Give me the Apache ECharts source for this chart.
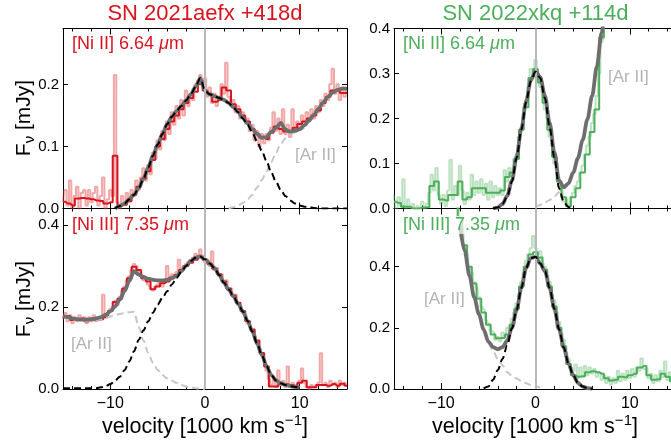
<!DOCTYPE html>
<html>
<head>
<meta charset="utf-8">
<script src="https://cdn.jsdelivr.net/npm/echarts@6/dist/echarts.min.js"></script>
<style>
html, body { margin: 0; padding: 0; background: #fff; }
#main { width: 671px; height: 443px; }
</style>
</head>
<body>
<div id="main"></div>
<script>
// velocity grids in 1000 km/s: binned spectrum (0.5) and native spectrum (0.25)
var velBin = []
for (var k = -30; k <= 30; k++) velBin.push(k / 2)
var velFine = []
for (var k = -60; k <= 60; k++) velFine.push(k / 4)

// ---- SN 2021aefx, [Ni II] 6.64 um (mJy)
var aefxNi2Raw = [
    0.01, 0.03, 0.005, 0.045, 0.0, 0.02, 0.035, 0.0,
    0.025, 0.03, 0.005, 0.03, 0.01, 0.025, 0.035, 0.005,
    0.02, 0.05, 0.0, 0.015, 0.03, 0.02, 0.215, 0.01,
    0.0, 0.02, 0.01, 0.025, 0.01, 0.03, 0.02, 0.045,
    0.03, 0.05, 0.065, 0.045, 0.07, 0.055, 0.09, 0.08,
    0.11, 0.095, 0.125, 0.11, 0.14, 0.12, 0.155, 0.135,
    0.165, 0.145, 0.175, 0.15, 0.19, 0.165, 0.185, 0.175,
    0.2, 0.205, 0.215, 0.2, 0.21, 0.18, 0.195, 0.17,
    0.185, 0.165, 0.18, 0.2, 0.185, 0.235, 0.18, 0.17,
    0.175, 0.155, 0.165, 0.145, 0.155, 0.14, 0.145, 0.125,
    0.135, 0.11, 0.125, 0.1, 0.12, 0.105, 0.12, 0.11,
    0.13, 0.155, 0.125, 0.145, 0.12, 0.16, 0.12, 0.135,
    0.115, 0.16, 0.125, 0.14, 0.13, 0.15, 0.135, 0.155,
    0.14, 0.16, 0.145, 0.165, 0.155, 0.175, 0.165, 0.185,
    0.175, 0.2, 0.225, 0.185, 0.2, 0.175, 0.195, 0.18,
    0.19
]
var aefxNi2Bin = [
    0.011, 0.008, 0.005, 0.016, 0.017, 0.016, 0.015, 0.013, 0.012, 0.008,
    0.01, 0.085, 0.005, 0.006, 0.012, 0.022, 0.035, 0.048, 0.06, 0.078,
    0.1, 0.112, 0.128, 0.14, 0.15, 0.16, 0.17, 0.178, 0.188, 0.2,
    0.19, 0.185, 0.172, 0.175, 0.195, 0.19, 0.168, 0.16, 0.15, 0.14,
    0.128, 0.12, 0.115, 0.112, 0.122, 0.132, 0.128, 0.124, 0.125, 0.13,
    0.136, 0.14, 0.145, 0.15, 0.158, 0.17, 0.18, 0.19, 0.19, 0.186,
    0.186
]
var aefxNi2Fit = [
    null, null, null, null, null, null, null, null, null, null,
    null, 0.0, 0.004, 0.008, 0.015, 0.022, 0.033, 0.048, 0.066, 0.085,
    0.103, 0.12, 0.136, 0.148, 0.157, 0.165, 0.174, 0.184, 0.196, 0.21,
    0.19, 0.184, 0.181, 0.178, 0.175, 0.17, 0.163, 0.155, 0.146, 0.137,
    0.128, 0.12, 0.114, 0.115, 0.124, 0.13, 0.138, 0.127, 0.124, 0.125,
    0.128, 0.134, 0.142, 0.151, 0.161, 0.171, 0.18, 0.187, 0.191, 0.193,
    0.193
]
var aefxNi2Comp = [
    null, null, null, null, null, null, null, null, null, null,
    null, 0.0, 0.004, 0.008, 0.015, 0.022, 0.033, 0.048, 0.066, 0.085,
    0.103, 0.12, 0.136, 0.148, 0.157, 0.165, 0.174, 0.184, 0.196, 0.21,
    0.19, 0.184, 0.181, 0.178, 0.175, 0.17, 0.163, 0.155, 0.145, 0.135,
    0.122, 0.108, 0.093, 0.076, 0.058, 0.043, 0.03, 0.02, 0.013, 0.008,
    0.005, 0.003, 0.002, 0.001, 0, 0, 0, 0, 0, 0,
    0
]
var aefxNi2Ar = [
    null, null, null, null, null, null, null, null, null, null,
    null, null, null, null, null, null, null, null, null, null,
    null, null, null, null, null, null, null, null, null, null,
    null, null, null, null, null, 0.0, 0.002, 0.005, 0.009, 0.015,
    0.022, 0.034, 0.046, 0.06, 0.075, 0.09, 0.104, 0.113, 0.119, 0.123,
    0.126, 0.13, null, null, null, null, null, null, null, null,
    null
]

// ---- SN 2021aefx, [Ni III] 7.35 um
var aefxNi3Raw = [
    0.17, 0.185, 0.165, 0.18, 0.16, 0.175, 0.165, 0.18,
    0.17, 0.175, 0.16, 0.175, 0.165, 0.18, 0.165, 0.175,
    0.17, 0.23, 0.175, 0.185, 0.195, 0.2, 0.215, 0.205,
    0.225, 0.24, 0.25, 0.265, 0.275, 0.29, 0.305, 0.3,
    0.285, 0.28, 0.265, 0.27, 0.255, 0.245, 0.24, 0.25,
    0.255, 0.26, 0.25, 0.265, 0.3, 0.265, 0.28, 0.275,
    0.285, 0.315, 0.29, 0.3, 0.305, 0.31, 0.315, 0.32,
    0.33, 0.325, 0.34, 0.325, 0.31, 0.315, 0.3, 0.335,
    0.29, 0.295, 0.275, 0.28, 0.26, 0.265, 0.24, 0.245,
    0.225, 0.23, 0.205, 0.2, 0.185, 0.18, 0.16, 0.155,
    0.14, 0.13, 0.115, 0.1, 0.085, 0.07, 0.045, 0.025,
    0.01, 0.02, 0.005, 0.045, 0.01, 0.02, 0.005, 0.055,
    0.01, 0.015, 0.005, 0.01, 0.02, 0.05, 0.015, 0.005,
    0.0, 0.01, 0.005, 0.01, 0.015, 0.087, 0.01, 0.015,
    0.005, 0.02, 0.01, 0.015, 0.005, 0.02, 0.01, 0.015,
    0.01
]
var aefxNi3Bin = [
    0.175, 0.178, 0.168, 0.17, 0.172, 0.165, 0.17, 0.168, 0.17, 0.175,
    0.19, 0.212, 0.22, 0.245, 0.27, 0.298, 0.29, 0.27, 0.262, 0.243,
    0.25, 0.258, 0.262, 0.272, 0.278, 0.29, 0.3, 0.308, 0.315, 0.322,
    0.315, 0.305, 0.293, 0.28, 0.262, 0.245, 0.228, 0.21, 0.19, 0.166,
    0.145, 0.118, 0.088, 0.055, 0.006, 0.006, 0.012, 0.012, 0.01, 0.008,
    0.015, 0.02, 0.004, 0.004, 0.01, 0.01, 0.008, 0.012, 0.008, 0.013,
    0.008
]
var aefxNi3Fit = [
    0.178, 0.175, 0.172, 0.17, 0.169, 0.169, 0.17, 0.172, 0.175, 0.181,
    0.189, 0.201, 0.218, 0.239, 0.263, 0.287, 0.279, 0.273, 0.269, 0.266,
    0.265, 0.265, 0.266, 0.27, 0.276, 0.287, 0.3, 0.312, 0.32, 0.323,
    0.316, 0.306, 0.295, 0.278, 0.259, 0.243, 0.226, 0.208, 0.189, 0.166,
    0.14, 0.111, 0.083, 0.056, 0.034, 0.021, 0.014, 0.01, 0.007, 0.005,
    0.003, null, null, null, null, null, null, null, null, null,
    null
]
var aefxNi3Comp = [
    0.002, 0.002, 0.002, 0.002, 0.002, 0.002, 0.002, 0.002, 0.004, 0.007,
    0.012, 0.02, 0.03, 0.046, 0.067, 0.092, 0.12, 0.143, 0.165, 0.186,
    0.206, 0.222, 0.238, 0.255, 0.271, 0.286, 0.3, 0.312, 0.32, 0.323,
    0.316, 0.306, 0.295, 0.278, 0.259, 0.243, 0.226, 0.208, 0.189, 0.166,
    0.14, 0.111, 0.083, 0.056, 0.034, 0.021, 0.014, 0.01, 0.007, 0.005,
    0.003, null, null, null, null, null, null, null, null, null,
    null
]
var aefxNi3Ar = [
    0.176, 0.172, 0.169, 0.167, 0.166, 0.166, 0.167, 0.168, 0.17, 0.173,
    0.177, 0.18, 0.183, 0.185, 0.187, 0.188, 0.152, 0.118, 0.088, 0.064,
    0.047, 0.034, 0.026, 0.02, 0.015, 0.01, 0.006, 0.004, 0.002, 0.001,
    0.0, null, null, null, null, null, null, null, null, null,
    null, null, null, null, null, null, null, null, null, null,
    null, null, null, null, null, null, null, null, null, null,
    null
]

// ---- SN 2022xkq, [Ni II] 6.64 um
var xkqNi2Raw = [
    0.03, 0.0, 0.025, 0.005, 0.065, 0.0, 0.02, 0.0,
    0.01, 0.0, 0.005, 0.0, 0.015, 0.0, 0.01, 0.035,
    0.075, 0.04, 0.09, 0.03, 0.01, 0.03, 0.005, 0.04,
    0.108, 0.02, 0.05, 0.03, 0.095, 0.04, 0.01, 0.035,
    0.02, 0.075, 0.03, 0.06, 0.035, 0.065, 0.03, 0.055,
    0.02, 0.06, 0.025, 0.05, 0.03, 0.045, 0.03, 0.085,
    0.06, 0.09, 0.07, 0.11, 0.12, 0.16, 0.18, 0.21,
    0.24, 0.27, 0.31, 0.3, 0.33, 0.3, 0.27, 0.26,
    0.22, 0.2, 0.16, 0.14, 0.1, 0.085, 0.05, 0.04,
    0.015, 0.02, 0.01, 0.025, 0.035, 0.05, 0.06, 0.08,
    0.095, 0.12, 0.14, 0.16, 0.19, 0.21, 0.25, 0.3,
    0.37, 0.43, 0.5, 0.58, null, null, null, null,
    null, null, null, null, null, null, null, null,
    null, null, null, null, null, null, null, null,
    null, null, null, null, null, null, null, null,
    null
]
var xkqNi2Bin = [
    0.015, 0.012, 0.004, 0.004, 0.0, 0.0, 0.002, 0.003, 0.05, 0.06,
    0.02, 0.018, 0.03, 0.03, 0.06, 0.02, 0.025, 0.045, 0.045, 0.045,
    0.035, 0.035, 0.035, 0.04, 0.07, 0.08, 0.11, 0.175, 0.225, 0.29,
    0.31, 0.28, 0.235, 0.175, 0.115, 0.06, 0.025, 0.005, 0.025, 0.045,
    0.08, 0.12, 0.17, 0.22, 0.38, 0.5, 0.6, null, null, null,
    null, null, null, null, null, null, null, null, null, null,
    null
]
var xkqNi2Fit = [
    null, null, null, null, null, null, null, null, null, null,
    null, null, null, null, null, null, null, null, null, null,
    null, 0.0, 0.002, 0.01, 0.028, 0.062, 0.115, 0.177, 0.238, 0.285,
    0.305, 0.292, 0.25, 0.19, 0.125, 0.062, 0.047, 0.056, 0.08, 0.112,
    0.152, 0.198, 0.25, 0.315, 0.39, 0.47, 0.56, null, null, null,
    null, null, null, null, null, null, null, null, null, null,
    null
]
var xkqNi2Comp = [
    null, null, null, null, null, null, null, null, null, null,
    null, null, null, null, null, null, null, null, null, null,
    null, 0.0, 0.002, 0.01, 0.027, 0.06, 0.113, 0.175, 0.236, 0.283,
    0.304, 0.29, 0.245, 0.18, 0.113, 0.045, 0.014, 0.003, 0.0, null,
    null, null, null, null, null, null, null, null, null, null,
    null, null, null, null, null, null, null, null, null, null,
    null
]
var xkqNi2Ar = [
    null, null, null, null, null, null, null, null, null, null,
    null, null, null, null, null, null, null, null, null, null,
    null, null, null, null, null, null, null, null, null, null,
    0.004, 0.008, 0.013, 0.019, 0.027, 0.036, 0.046, 0.055, null, null,
    null, null, null, null, null, null, null, null, null, null,
    null, null, null, null, null, null, null, null, null, null,
    null
]

// ---- SN 2022xkq, [Ni III] 7.35 um
var xkqNi3Raw = [
    null, null, null, null, null, null, null, null,
    null, null, null, null, null, null, null, null,
    null, null, null, null, null, null, null, null,
    null, null, 0.65, 0.6, 0.56, 0.52, 0.47, 0.44,
    0.4, 0.38, 0.35, 0.33, 0.3, 0.27, 0.26, 0.225,
    0.215, 0.19, 0.185, 0.16, 0.17, 0.155, 0.185, 0.17,
    0.2, 0.19, 0.23, 0.25, 0.28, 0.31, 0.35, 0.38,
    0.42, 0.44, 0.46, 0.5, 0.46, 0.44, 0.45, 0.41,
    0.4, 0.37, 0.35, 0.31, 0.29, 0.25, 0.22, 0.18,
    0.16, 0.12, 0.1, 0.07, 0.06, 0.08, 0.035, 0.07,
    0.04, 0.075, 0.045, 0.07, 0.05, 0.065, 0.04, 0.055,
    0.03, 0.045, 0.02, 0.04, 0.015, 0.035, 0.02, 0.06,
    0.025, 0.05, 0.03, 0.06, 0.035, 0.065, 0.04, 0.07,
    0.06, 0.1, 0.065, 0.07, 0.035, 0.05, 0.02, 0.045,
    0.025, 0.06, 0.04, 0.09, 0.03, 0.055, 0.02, 0.05,
    0.03
]
var xkqNi3Bin = [
    null, null, null, null, null, null, null, null, null, null,
    null, null, null, 0.65, 0.56, 0.47, 0.4, 0.345, 0.295, 0.25,
    0.21, 0.178, 0.166, 0.167, 0.178, 0.21, 0.262, 0.335, 0.4, 0.44,
    0.447, 0.43, 0.39, 0.335, 0.27, 0.2, 0.14, 0.082, 0.045, 0.04,
    0.042, 0.055, 0.058, 0.055, 0.05, 0.035, 0.028, 0.03, 0.04, 0.038,
    0.045, 0.05, 0.07, 0.075, 0.045, 0.03, 0.032, 0.05, 0.04, 0.025,
    0.03
]
var xkqNi3Fit = [
    null, null, null, null, null, null, null, null, null, null,
    null, null, null, null, 0.53, 0.45, 0.37, 0.3, 0.245, 0.195,
    0.155, 0.137, 0.13, 0.137, 0.158, 0.2, 0.258, 0.33, 0.395, 0.428,
    0.432, 0.41, 0.385, 0.33, 0.262, 0.195, 0.135, 0.083, 0.045, 0.02,
    0.008, 0.003, 0.001, null, null, null, null, null, null, null,
    null, null, null, null, null, null, null, null, null, null,
    null
]
var xkqNi3Comp = [
    null, null, null, null, null, null, null, null, null, null,
    null, null, null, null, null, null, null, null, null, 0.002,
    0.008, 0.03, 0.062, 0.098, 0.142, 0.198, 0.258, 0.33, 0.395, 0.428,
    0.432, 0.41, 0.385, 0.33, 0.262, 0.195, 0.135, 0.083, 0.045, 0.02,
    0.008, 0.003, 0.001, null, null, null, null, null, null, null,
    null, null, null, null, null, null, null, null, null, null,
    null
]
var xkqNi3Ar = [
    null, null, null, null, null, null, null, null, null, null,
    null, null, null, null, 0.53, 0.45, 0.37, 0.3, 0.243, 0.193,
    0.15, 0.125, 0.098, 0.078, 0.055, 0.043, 0.034, 0.026, 0.019, 0.013,
    0.008, 0.005, null, null, null, null, null, null, null, null,
    null, null, null, null, null, null, null, null, null, null,
    null, null, null, null, null, null, null, null, null, null,
    null
]

var RED = '#d8151f'
var RED_LIGHT = 'rgba(226, 60, 60, 0.45)'
var GREEN = '#4daf5b'
var GREEN_LIGHT = 'rgba(77, 175, 91, 0.38)'
var FONT = '"Liberation Sans", Arial, Helvetica, sans-serif'
var W = 671

var panels = [
    {left: 63, width: 284, top: 28.5, height: 180, yMax: 0.29, yStep: 0.1, showMax: false, xLabels: false,
        color: RED, light: RED_LIGHT, raw: aefxNi2Raw, bin: aefxNi2Bin, fit: aefxNi2Fit, comp: aefxNi2Comp, ar: aefxNi2Ar},
    {left: 63, width: 284, top: 208.5, height: 180.5, yMax: 0.44, yStep: 0.2, showMax: false, xLabels: true,
        color: RED, light: RED_LIGHT, raw: aefxNi3Raw, bin: aefxNi3Bin, fit: aefxNi3Fit, comp: aefxNi3Comp, ar: aefxNi3Ar},
    {left: 394, width: 283, top: 28.5, height: 180, yMax: 0.4, yStep: 0.1, showMax: true, xLabels: false,
        color: GREEN, light: GREEN_LIGHT, raw: xkqNi2Raw, bin: xkqNi2Bin, fit: xkqNi2Fit, comp: xkqNi2Comp, ar: xkqNi2Ar},
    {left: 394, width: 283, top: 208.5, height: 180.5, yMax: 0.59, yStep: 0.2, showMax: false, xLabels: true,
        color: GREEN, light: GREEN_LIGHT, raw: xkqNi3Raw, bin: xkqNi3Bin, fit: xkqNi3Fit, comp: xkqNi3Comp, ar: xkqNi3Ar},
]

var pair = function (xs, ys) {
    var out = []
    for (var i = 0; i < xs.length; i++) {
        if (ys[i] !== null && ys[i] !== undefined) out.push([xs[i], ys[i]])
    }
    return out
}

var minus = function (v) {
    return v < 0 ? '\u2212' + Math.abs(v) : String(v)
}

var grids = []
var xAxes = []
var yAxes = []
var series = []

var tickX = function (gridIndex, pos, min, max, interval, len, labels) {
    xAxes.push({
        gridIndex: gridIndex, type: 'value', position: pos, min: min, max: max, interval: interval,
        axisLine: {show: false},
        axisTick: {show: true, inside: true, length: len, lineStyle: {color: '#000', width: 1}},
        axisLabel: {show: labels, color: '#000', fontSize: 16, fontFamily: FONT, margin: 7, formatter: minus},
        splitLine: {show: false},
    })
}

panels.forEach(function (p) {
    var right = W - p.left - p.width
    var scale = p.width / 30
    var g = grids.length
    grids.push({left: p.left, right: right, top: p.top, height: p.height, containLabel: false, outerBoundsMode: 'none'})
    grids.push({left: p.left + scale, right: right + scale, top: p.top, height: p.height, containLabel: false, outerBoundsMode: 'none'})
    grids.push({left: p.left + 5 * scale, right: right + 5 * scale, top: p.top, height: p.height, containLabel: false, outerBoundsMode: 'none'})

    // spines
    var xi = xAxes.length
    ;['bottom', 'top'].forEach(function (pos) {
        xAxes.push({
            gridIndex: g, type: 'value', position: pos, min: -15, max: 15,
            axisLine: {show: true, onZero: false, lineStyle: {color: '#000', width: 1}},
            axisTick: {show: false}, axisLabel: {show: false}, splitLine: {show: false},
        })
    })
    // minor ticks every 2, major every 10
    tickX(g + 1, 'bottom', -14, 14, 2, 3, false)
    tickX(g + 1, 'top', -14, 14, 2, 3, false)
    tickX(g + 2, 'bottom', -10, 10, 10, 6, p.xLabels)
    tickX(g + 2, 'top', -10, 10, 10, 6, false)

    var yi = yAxes.length
    ;['left', 'right'].forEach(function (pos) {
        yAxes.push({
            gridIndex: g, type: 'value', position: pos, min: 0, max: p.yMax, interval: p.yStep,
            axisLine: {show: true, onZero: false, lineStyle: {color: '#000', width: 1}},
            axisTick: {show: true, inside: true, length: 5, lineStyle: {color: '#000', width: 1}},
            axisLabel: {
                show: pos === 'left', color: '#000', fontSize: 15, fontFamily: FONT, margin: 4,
                showMaxLabel: p.showMax, formatter: function (v) { return v.toFixed(1) },
            },
            splitLine: {show: false},
        })
    })
    yAxes.push({gridIndex: g + 1, type: 'value', show: false, min: 0, max: 1})
    yAxes.push({gridIndex: g + 2, type: 'value', show: false, min: 0, max: 1})

    var base = {type: 'line', xAxisIndex: xi, yAxisIndex: yi, symbol: 'none', silent: true, animation: false, clip: true}
    series.push(Object.assign({}, base, {
        data: pair(velFine, p.raw), step: 'middle', z: 1,
        lineStyle: {color: p.light, width: 2},
        markLine: {
            silent: true, symbol: ['none', 'none'], label: {show: false}, animation: false,
            lineStyle: {color: '#b8b8b8', width: 2, type: 'solid'},
            data: [{xAxis: 0}],
        },
    }))
    series.push(Object.assign({}, base, {
        data: pair(velBin, p.bin), step: 'middle', z: 2,
        lineStyle: {color: p.color, width: 2},
    }))
    series.push(Object.assign({}, base, {
        data: pair(velBin, p.ar), smooth: 0.3, smoothMonotone: 'x', z: 3,
        lineStyle: {color: '#c6c6c6', width: 2, type: [7, 4]},
    }))
    series.push(Object.assign({}, base, {
        data: pair(velBin, p.fit), smooth: 0.3, smoothMonotone: 'x', z: 4,
        lineStyle: {color: '#6e6e6e', width: 3.8},
    }))
    series.push(Object.assign({}, base, {
        data: pair(velBin, p.comp), smooth: 0.3, smoothMonotone: 'x', z: 5,
        lineStyle: {color: '#000', width: 2, type: [7, 4]},
    }))
})

var text = function (x, y, str, fill, size, align) {
    return {
        type: 'text', x: x, y: y, silent: true, z: 100,
        style: {text: str, fill: fill, fontSize: size, fontFamily: FONT, align: align, verticalAlign: 'middle'},
    }
}

var lineLabel = function (x, y, ion, wave, fill) {
    return {
        type: 'text', x: x, y: y, silent: true, z: 100,
        style: {
            text: '{n|' + ion + ' ' + wave + ' }{i|\u03bc}{n|m}', fill: fill, align: 'left', verticalAlign: 'middle',
            backgroundColor: 'rgba(255,255,255,0.7)',
            rich: {
                n: {fontSize: 18, fontFamily: FONT, fill: fill},
                i: {fontSize: 18, fontFamily: FONT, fontStyle: 'italic', fill: fill},
            },
        },
    }
}

var yName = function (y) {
    return {
        type: 'text', x: 24, y: y, rotation: Math.PI / 2, silent: true, z: 100,
        style: {
            text: '{a|F}{b|\u03bd}{a| [mJy]}', fill: '#000', align: 'center', verticalAlign: 'middle',
            rich: {
                a: {fontSize: 21, fontFamily: FONT, fill: '#000', lineHeight: 26, verticalAlign: 'middle'},
                b: {fontSize: 15, fontFamily: FONT, fill: '#000', lineHeight: 15, verticalAlign: 'bottom'},
            },
        },
    }
}

var xName = function (x) {
    return {
        type: 'text', x: x, y: 427, silent: true, z: 100,
        style: {
            text: '{n|velocity [1000 km s}{s|\u22121}{n|]}', fill: '#000', align: 'center', verticalAlign: 'middle',
            rich: {
                n: {fontSize: 21.5, fontFamily: FONT, fill: '#000', lineHeight: 28, verticalAlign: 'middle'},
                s: {fontSize: 15, fontFamily: FONT, fill: '#000', lineHeight: 15, verticalAlign: 'top'},
            },
        },
    }
}

var graphics = [
    text(205, 14, 'SN 2021aefx +418d', RED, 22, 'center'),
    text(535.5, 14, 'SN 2022xkq +114d', GREEN, 22, 'center'),
    lineLabel(72, 44, '[Ni II]', '6.64', RED),
    lineLabel(403, 44, '[Ni II]', '6.64', GREEN),
    lineLabel(72, 225, '[Ni III]', '7.35', RED),
    lineLabel(403, 225, '[Ni III]', '7.35', GREEN),
    text(295, 155, '[Ar II]', '#b4b4b4', 17, 'left'),
    text(608, 77, '[Ar II]', '#b4b4b4', 17, 'left'),
    text(71, 344, '[Ar II]', '#b4b4b4', 17, 'left'),
    text(424, 299, '[Ar II]', '#b4b4b4', 17, 'left'),
    yName(118),
    yName(299),
    xName(205),
    xName(535),
]

var element = document.querySelector('#main')
var myChart = echarts.init(element, null, {renderer: 'canvas'})
var option = {
    backgroundColor: '#fff',
    animation: false,
    grid: grids,
    xAxis: xAxes,
    yAxis: yAxes,
    series: series,
    graphic: graphics,
}
myChart.setOption(option)
</script>
</body>
</html>
